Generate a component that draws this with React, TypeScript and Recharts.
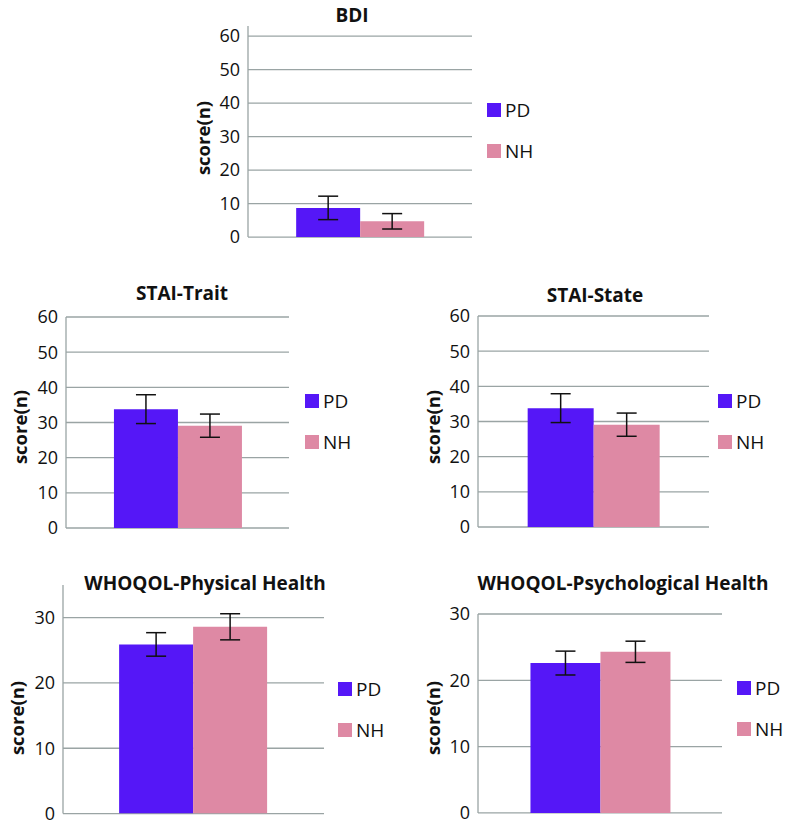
import { BarChart, Bar, XAxis, YAxis, CartesianGrid, ErrorBar } from "recharts";

// ─── Data ─────────────────────────────────────────────────────────────────────
const panelTitles = [
  "BDI",
  "STAI-Trait",
  "STAI-State",
  "WHOQOL-Physical Health",
  "WHOQOL-Psychological Health",
];
const seriesNames = ["PD", "NH"];
const pdMeans = [8.7, 33.8, 33.8, 25.9, 22.6];
const pdErrors = [3.5, 4.1, 4.1, 1.8, 1.8];
const nhMeans = [4.7, 29.1, 29.1, 28.6, 24.3];
const nhErrors = [2.3, 3.3, 3.3, 2.0, 1.6];
const scoreTicks = [0, 10, 20, 30, 40, 50, 60];
const whoqolTicks = [0, 10, 20, 30];
const panelTicks = [scoreTicks, scoreTicks, scoreTicks, whoqolTicks, whoqolTicks];
const panelMax = [63, 60, 60, 35, 30];

// ─── Layout (plot box in page pixels) ─────────────────────────────────────────
const layout = [
  { left: 248, right: 472, zero: 237, pxPerUnit: 3.35, titleX: 352, titleY: 15, labelX: 203, labelY: 138, legendX: 487, legendY: 103 },
  { left: 66, right: 289, zero: 527.7, pxPerUnit: 3.517, titleX: 182, titleY: 293, labelX: 20, labelY: 427, legendX: 305, legendY: 394 },
  { left: 478, right: 709, zero: 526.7, pxPerUnit: 3.517, titleX: 595, titleY: 295, labelX: 433, labelY: 427, legendX: 718, legendY: 394 },
  { left: 63, right: 324, zero: 813.3, pxPerUnit: 6.53, titleX: 205, titleY: 583, labelX: 17, labelY: 718, legendX: 338, legendY: 682 },
  { left: 478, right: 722, zero: 813.3, pxPerUnit: 6.63, titleX: 623, titleY: 583, labelX: 433, labelY: 718, legendX: 737, legendY: 681 },
];

const PD_COLOR = "#5517F7";
const NH_COLOR = "#DE89A4";
const GRID = "#9AA4A4";
const FONT = "'Open Sans', sans-serif";
const Y_W = 48;
const M_TOP = 14;
const M_BOTTOM = 14;

function Panel({ i }: { i: number }) {
  const l = layout[i];
  const plotW = l.right - l.left;
  const plotH = panelMax[i] * l.pxPerUnit;
  const top = l.zero - plotH;
  const data = [
    { name: panelTitles[i], PD: pdMeans[i], NH: nhMeans[i], pdErr: pdErrors[i], nhErr: nhErrors[i] },
  ];
  return (
    <>
      <div style={{ position: "absolute", left: l.left - Y_W, top: top - M_TOP }}>
        <BarChart
          width={Y_W + plotW}
          height={M_TOP + plotH + M_BOTTOM}
          data={data}
          margin={{ top: M_TOP, right: 0, left: 0, bottom: M_BOTTOM }}
          barGap={0}
          barCategoryGap="21.5%"
        >
          <CartesianGrid
            vertical={false}
            horizontalValues={panelTicks[i]}
            stroke={GRID}
            strokeWidth={1.3}
          />
          <XAxis dataKey="name" hide />
          <YAxis
            width={Y_W}
            domain={[0, panelMax[i]]}
            ticks={panelTicks[i]}
            interval={0}
            allowDataOverflow
            tickLine={false}
            axisLine={{ stroke: GRID, strokeWidth: 1.3 }}
            tick={{ fill: "#111", fontSize: 18, fontFamily: FONT }}
          />
          <Bar dataKey="PD" name={seriesNames[0]} fill={PD_COLOR} isAnimationActive={false}>
            <ErrorBar dataKey="pdErr" direction="y" width={10} stroke="#111" strokeWidth={1.5} />
          </Bar>
          <Bar dataKey="NH" name={seriesNames[1]} fill={NH_COLOR} isAnimationActive={false}>
            <ErrorBar dataKey="nhErr" direction="y" width={10} stroke="#111" strokeWidth={1.5} />
          </Bar>
        </BarChart>
      </div>
      <div
        style={{
          position: "absolute",
          left: l.titleX - 200,
          width: 400,
          top: l.titleY - 13,
          textAlign: "center",
          fontWeight: 700,
          fontSize: 19,
          lineHeight: "26px",
          color: "#111",
          whiteSpace: "nowrap",
        }}
      >
        {panelTitles[i]}
      </div>
      <div
        style={{
          position: "absolute",
          left: l.labelX - 60,
          top: l.labelY - 13,
          width: 120,
          textAlign: "center",
          fontWeight: 700,
          fontSize: 18.5,
          lineHeight: "26px",
          color: "#111",
          transform: "rotate(-90deg)",
        }}
      >
        score(n)
      </div>
      {seriesNames.map((s, k) => (
        <div
          key={s}
          style={{
            position: "absolute",
            left: l.legendX,
            top: l.legendY + k * 40.5 - 6,
            display: "flex",
            alignItems: "center",
            fontSize: 19,
            lineHeight: "26px",
            color: "#111",
            whiteSpace: "nowrap",
          }}
        >
          <span
            style={{
              display: "inline-block",
              width: 14,
              height: 14,
              background: k === 0 ? PD_COLOR : NH_COLOR,
              marginRight: 4,
            }}
          />
          {s}
        </div>
      ))}
    </>
  );
}

export default function App() {
  return (
    <div
      style={{
        position: "absolute",
        left: 0,
        top: 0,
        width: 786,
        height: 826,
        overflow: "hidden",
        background: "#fff",
        fontFamily: FONT,
      }}
    >
      {panelTitles.map((_, i) => (
        <Panel key={i} i={i} />
      ))}
    </div>
  );
}
